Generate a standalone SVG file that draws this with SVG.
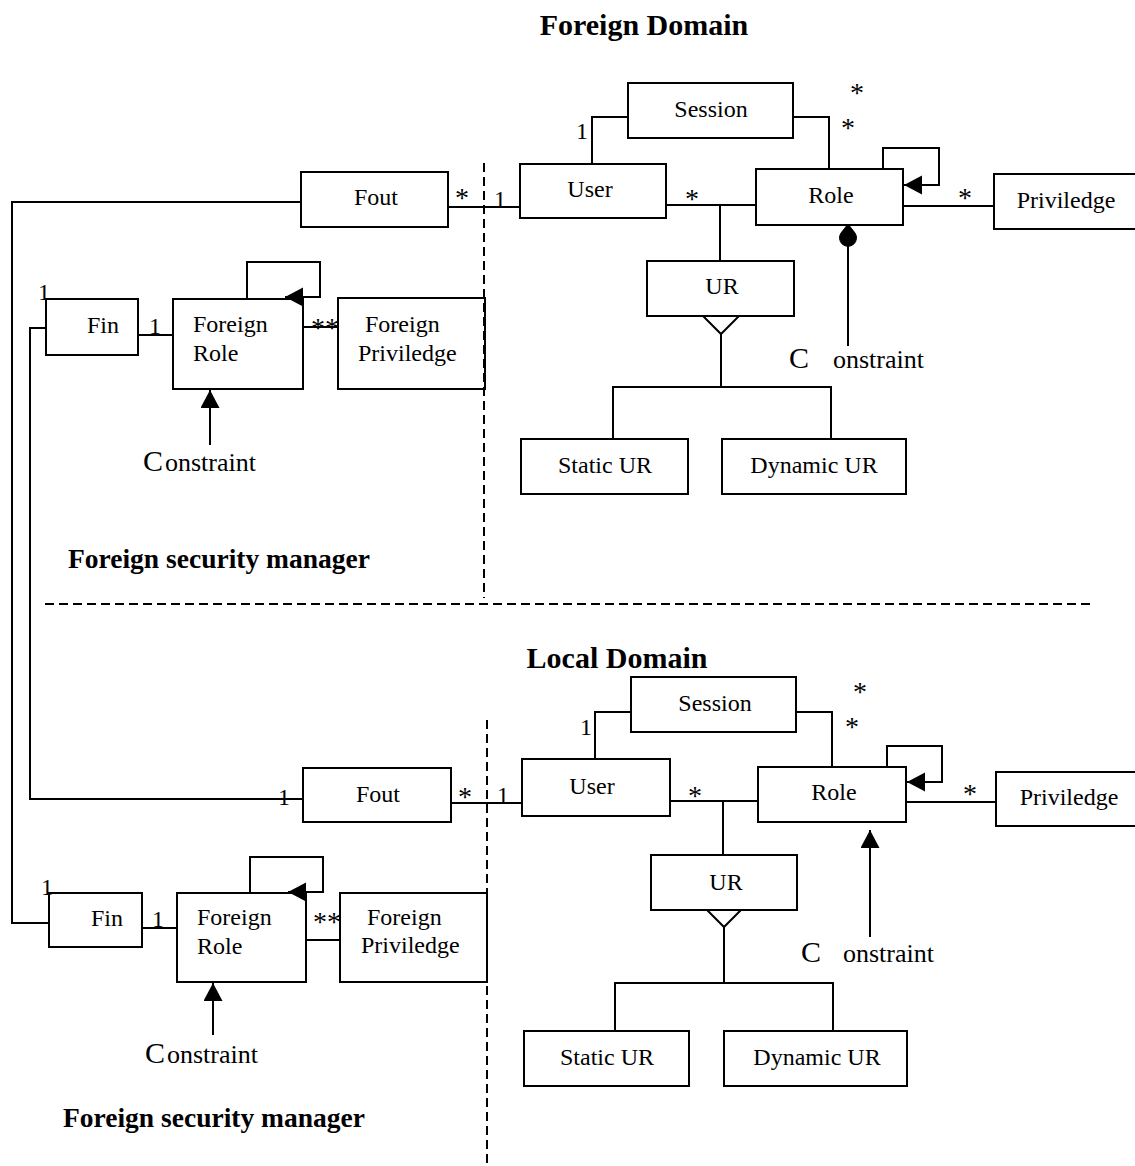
<svg xmlns="http://www.w3.org/2000/svg" width="1135" height="1166" viewBox="0 0 1135 1166">
<style>
.box{fill:#fff;stroke:#000;stroke-width:2}
.ln{fill:none;stroke:#000;stroke-width:2}
.arr{fill:none;stroke:#000;stroke-width:2;marker-end:url(#tri)}
.dash{fill:none;stroke:#000;stroke-width:2;stroke-dasharray:9 5}
.fill{fill:#000;stroke:#000;stroke-width:1}
.open{fill:#fff;stroke:#000;stroke-width:2}
text{font-family:"Liberation Serif","Times New Roman",serif;fill:#000}
.lbl{font-size:24px}
.mid{text-anchor:middle}
.mult{font-size:24px}
.star{font-size:28px}
.bold{font-size:30px;font-weight:bold}
.bold2{font-size:27.5px;font-weight:bold}
.c{font-size:30px}
.cs{font-size:26px}
</style>
<defs>
  <marker id="tri" markerUnits="userSpaceOnUse" markerWidth="20" markerHeight="20" refX="18" refY="9.5" orient="auto">
    <path d="M0,0 L18,9.5 L0,19 Z" fill="#000"/>
  </marker>
</defs>
<rect width="1135" height="1166" fill="#fff"/>

<!-- titles -->
<text class="bold mid" x="644" y="35">Foreign Domain</text>
<text class="bold mid" x="617" y="668">Local Domain</text>
<text class="bold2" x="68" y="568">Foreign security manager</text>
<text class="bold2" x="63" y="1127">Foreign security manager</text>

<!-- top domain nodes -->
<g id="fout-top"><rect class="box" x="301" y="172" width="147" height="55"/><text class="lbl mid" x="376" y="205">Fout</text></g>
<g id="session-top"><rect class="box" x="628" y="83" width="165" height="55"/><text class="lbl mid" x="711" y="117">Session</text></g>
<g id="user-top"><rect class="box" x="520" y="164" width="146" height="54"/><text class="lbl mid" x="590" y="197">User</text></g>
<g id="role-top"><rect class="box" x="756" y="169" width="147" height="56"/><text class="lbl mid" x="831" y="203">Role</text></g>
<g id="priv-top"><rect class="box" x="994" y="174" width="150" height="55"/><text class="lbl mid" x="1066" y="208">Priviledge</text></g>
<g id="ur-top"><rect class="box" x="647" y="261" width="147" height="55"/><text class="lbl mid" x="722" y="294">UR</text></g>
<g id="static-top"><rect class="box" x="521" y="439" width="167" height="55"/><text class="lbl mid" x="605" y="473">Static UR</text></g>
<g id="dynamic-top"><rect class="box" x="722" y="439" width="184" height="55"/><text class="lbl mid" x="814" y="473">Dynamic UR</text></g>
<g id="constraint-top"><text class="c" x="789" y="368">C</text><text class="cs" x="833" y="368">onstraint</text></g>

<g id="fin-top"><rect class="box" x="46" y="299" width="92" height="56"/><text class="lbl" x="87" y="333">Fin</text></g>
<g id="frole-top"><rect class="box" x="173" y="299" width="130" height="90"/><text class="lbl" x="193" y="332">Foreign</text><text class="lbl" x="193" y="361">Role</text></g>
<g id="fpriv-top"><rect class="box" x="338" y="298" width="147" height="91"/><text class="lbl" x="365" y="332">Foreign</text><text class="lbl" x="358" y="361">Priviledge</text></g>
<g id="fconstraint-top"><text class="c" x="143" y="471">C</text><text class="cs" x="165" y="471">onstraint</text></g>

<!-- local domain nodes -->
<g id="fout-local"><rect class="box" x="303" y="768" width="148" height="54"/><text class="lbl mid" x="378" y="802">Fout</text></g>
<g id="session-local"><rect class="box" x="631" y="677" width="165" height="55"/><text class="lbl mid" x="715" y="711">Session</text></g>
<g id="user-local"><rect class="box" x="522" y="759" width="148" height="57"/><text class="lbl mid" x="592" y="794">User</text></g>
<g id="role-local"><rect class="box" x="758" y="767" width="148" height="55"/><text class="lbl mid" x="834" y="800">Role</text></g>
<g id="priv-local"><rect class="box" x="996" y="772" width="150" height="54"/><text class="lbl mid" x="1069" y="805">Priviledge</text></g>
<g id="ur-local"><rect class="box" x="651" y="855" width="146" height="55"/><text class="lbl mid" x="726" y="890">UR</text></g>
<g id="static-local"><rect class="box" x="524" y="1031" width="165" height="55"/><text class="lbl mid" x="607" y="1065">Static UR</text></g>
<g id="dynamic-local"><rect class="box" x="724" y="1031" width="183" height="55"/><text class="lbl mid" x="817" y="1065">Dynamic UR</text></g>
<g id="constraint-local"><text class="c" x="801" y="962">C</text><text class="cs" x="843" y="962">onstraint</text></g>

<g id="fin-local"><rect class="box" x="49" y="893" width="93" height="54"/><text class="lbl" x="91" y="926">Fin</text></g>
<g id="frole-local"><rect class="box" x="177" y="893" width="129" height="89"/><text class="lbl" x="197" y="925">Foreign</text><text class="lbl" x="197" y="954">Role</text></g>
<g id="fpriv-local"><rect class="box" x="340" y="893" width="147" height="89"/><text class="lbl" x="367" y="925">Foreign</text><text class="lbl" x="361" y="953">Priviledge</text></g>
<g id="fconstraint-local"><text class="c" x="145" y="1063">C</text><text class="cs" x="167" y="1063">onstraint</text></g>

<!-- connectors -->
<g id="connectors">
  <line class="dash" x1="484" y1="163" x2="484" y2="598"/>
  <line class="dash" x1="45" y1="604" x2="1092" y2="604"/>
  <line class="dash" x1="487" y1="720" x2="487" y2="1166"/>

  <polyline class="ln" points="301,202 12,202 12,923 49,923"/>
  <polyline class="ln" points="46,328 30,328 30,799 303,799"/>

  <line class="ln" x1="448" y1="207" x2="520" y2="207"/>
  <polyline class="ln" points="592,164 592,117 628,117"/>
  <polyline class="ln" points="793,117 829,117 829,169"/>
  <line class="ln" x1="666" y1="205" x2="756" y2="205"/>
  <line class="ln" x1="903" y1="206" x2="994" y2="206"/>
  <polyline class="arr" points="883,169 883,148 939,148 939,185 904,185"/>
  <line class="ln" x1="720" y1="205" x2="720" y2="261"/>
  <polygon class="open" points="703,316 739,316 721,334"/>
  <polyline class="ln" points="721,334 721,387"/>
  <polyline class="ln" points="613,439 613,387 831,387 831,439"/>
  <line class="ln" x1="848" y1="346" x2="848" y2="240"/>
  <path class="fill" d="M848,224 L855,233 A8.5,8.5 0 1 1 841,233 Z"/>

  <line class="ln" x1="138" y1="335" x2="173" y2="335"/>
  <polyline class="arr" points="247,299 247,262 320,262 320,297 285,297"/>
  <line class="ln" x1="303" y1="327" x2="338" y2="327"/>
  <line class="arr" x1="210" y1="445" x2="210" y2="390"/>

  <line class="ln" x1="451" y1="803" x2="522" y2="803"/>
  <polyline class="ln" points="595,759 595,712 631,712"/>
  <polyline class="ln" points="796,712 832,712 832,767"/>
  <line class="ln" x1="670" y1="801" x2="758" y2="801"/>
  <line class="ln" x1="906" y1="802" x2="996" y2="802"/>
  <polyline class="arr" points="887,767 887,746 942,746 942,782 907,782"/>
  <line class="ln" x1="723" y1="801" x2="723" y2="855"/>
  <polygon class="open" points="707,910 741,910 724,927"/>
  <polyline class="ln" points="724,927 724,983"/>
  <polyline class="ln" points="615,1031 615,983 833,983 833,1031"/>
  <line class="arr" x1="870" y1="937" x2="870" y2="830"/>

  <line class="ln" x1="142" y1="928" x2="177" y2="928"/>
  <polyline class="arr" points="250,893 250,857 323,857 323,892 288,892"/>
  <line class="ln" x1="306" y1="940" x2="340" y2="940"/>
  <line class="arr" x1="213" y1="1035" x2="213" y2="983"/>
</g>

<!-- multiplicities -->
<g id="multiplicities">
  <text class="star" x="455" y="207">*</text>
  <text class="mult" x="494" y="207">1</text>
  <text class="mult" x="576" y="139">1</text>
  <text class="star" x="850" y="102">*</text>
  <text class="star" x="841" y="137">*</text>
  <text class="star" x="685" y="208">*</text>
  <text class="star" x="958" y="207">*</text>
  <text class="mult" x="38" y="300">1</text>
  <text class="mult" x="149" y="334">1</text>
  <text class="star" x="311" y="337">**</text>

  <text class="star" x="458" y="806">*</text>
  <text class="mult" x="497" y="803">1</text>
  <text class="mult" x="580" y="735">1</text>
  <text class="star" x="853" y="701">*</text>
  <text class="star" x="845" y="736">*</text>
  <text class="star" x="688" y="805">*</text>
  <text class="star" x="963" y="803">*</text>
  <text class="mult" x="41" y="895">1</text>
  <text class="mult" x="152" y="927">1</text>
  <text class="mult" x="278" y="805">1</text>
  <text class="star" x="313" y="931">**</text>
</g>
</svg>
